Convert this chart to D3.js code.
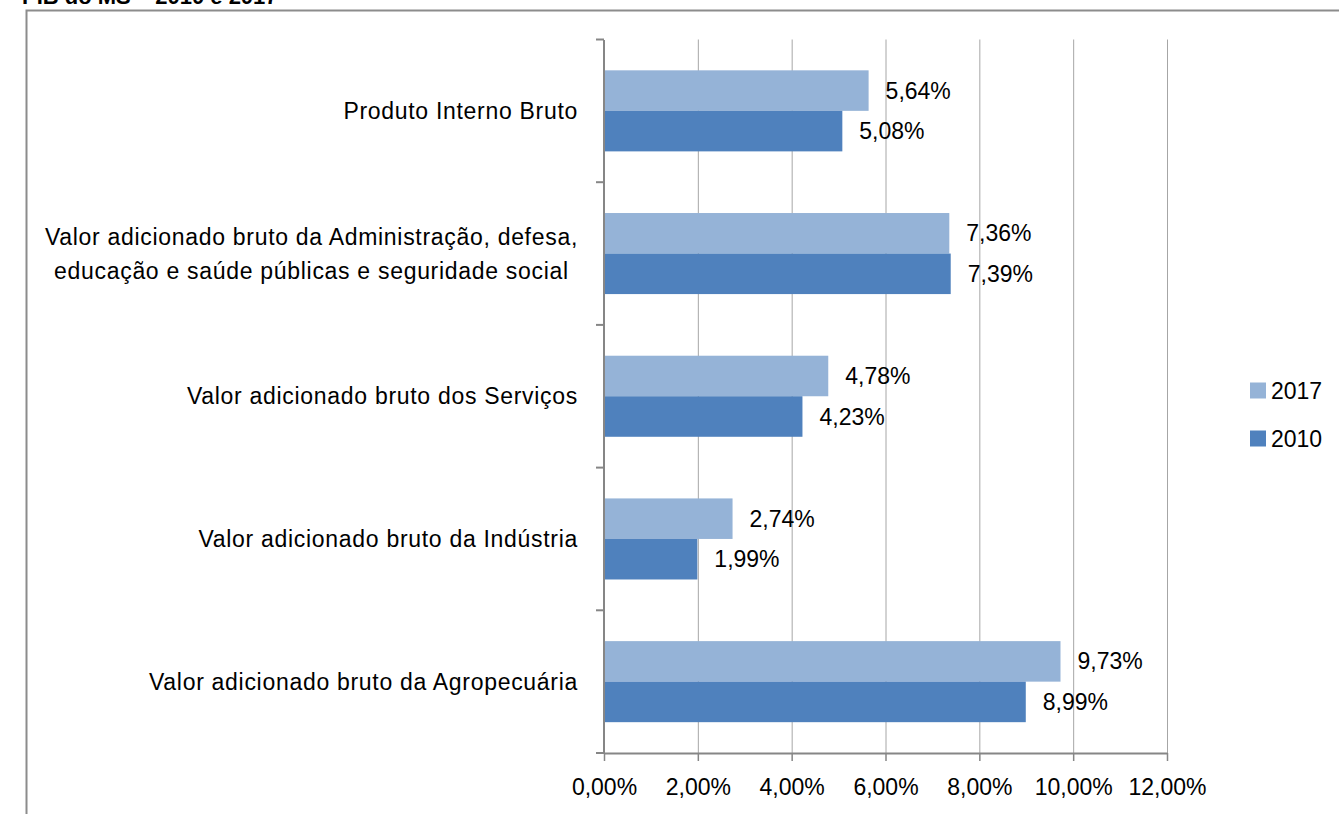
<!DOCTYPE html>
<html>
<head>
<meta charset="utf-8">
<script src="https://cdn.jsdelivr.net/npm/d3@7"></script>
<style>
    body { margin: 0; background: #fff; }
    text { font-family: "Liberation Sans", Arial, sans-serif; fill: #000; }
</style>
</head>
<body>
<div id="chart"></div>
<script>
var width = 1339,
    height = 814;
var margin = { top: 39.5, right: 172, bottom: 61, left: 604 };

var categories = [
    ["Produto Interno Bruto"],
    ["Valor adicionado bruto da Administração, defesa,", "educação e saúde públicas e seguridade social"],
    ["Valor adicionado bruto dos Serviços"],
    ["Valor adicionado bruto da Indústria"],
    ["Valor adicionado bruto da Agropecuária"]
];
var series = ["2017", "2010"];
var values2017 = [5.64, 7.36, 4.78, 2.74, 9.73];
var values2010 = [5.08, 7.39, 4.23, 1.99, 8.99];
var xTicks = [0, 2, 4, 6, 8, 10, 12];

var colors = ['#95b3d7', '#4f81bd'];
var formatPct = function (v) { return v.toFixed(2).replace(".", ",") + "%"; };

var rows = categories.map(function (c, i) {
    return { key: "c" + i, lines: c, "2017": values2017[i], "2010": values2010[i] };
});

var svg = d3.select("#chart")
    .append("svg")
    .attr("width", width)
    .attr("height", height);

// title, cut off at the top of the picture
svg.append("text")
    .attr("x", 22)
    .attr("y", 4)
    .style("font-size", "22px")
    .style("font-weight", "bold")
    .text("PIB do MS – 2010 e 2017");

// outer frame
svg.append("path")
    .attr("d", "M26.5," + height + "V10.5H" + width)
    .attr("fill", "none")
    .attr("stroke", "#8c8c8c")
    .attr("stroke-width", 2);

var x = d3.scaleLinear()
    .domain([0, 12])
    .range([margin.left, width - margin.right]);

var y0 = d3.scaleBand()
    .domain(rows.map(function (d) { return d.key; }))
    .range([margin.top, height - margin.bottom])
    .paddingInner(0.432)
    .paddingOuter(0.216);

var y1 = d3.scaleBand()
    .domain(series)
    .range([0, y0.bandwidth()]);

var color = d3.scaleOrdinal().domain(series).range(colors);

// vertical gridlines
svg.append("g")
    .selectAll("line")
    .data(xTicks.slice(1))
    .enter().append("line")
    .attr("x1", function (d) { return x(d) + 0.5; })
    .attr("x2", function (d) { return x(d) + 0.5; })
    .attr("y1", margin.top)
    .attr("y2", height - margin.bottom)
    .attr("stroke", "#a6a6a6")
    .attr("stroke-width", 1);

// bars
var group = svg.append("g")
    .selectAll("g")
    .data(rows)
    .enter().append("g")
    .attr("transform", function (d) { return "translate(0," + y0(d.key) + ")"; });

group.selectAll("rect")
    .data(function (d) { return series.map(function (s) { return { s: s, v: d[s] }; }); })
    .enter().append("rect")
    .attr("x", x(0))
    .attr("y", function (d) { return y1(d.s); })
    .attr("width", function (d) { return x(d.v) - x(0); })
    .attr("height", y1.bandwidth())
    .attr("fill", function (d) { return color(d.s); });

group.selectAll("text.val")
    .data(function (d) { return series.map(function (s) { return { s: s, v: d[s] }; }); })
    .enter().append("text")
    .attr("class", "val")
    .attr("x", function (d) { return x(d.v) + 17; })
    .attr("y", function (d) { return y1(d.s) + y1.bandwidth() / 2; })
    .attr("dy", "0.35em")
    .style("font-size", "23px")
    .text(function (d) { return formatPct(d.v); });

// y axis
var yAxis = d3.axisLeft(y0)
    .tickValues([])
    .tickSizeOuter(0);

var yg = svg.append("g")
    .attr("transform", "translate(" + (x(0) - 0.5) + ",0)")
    .call(yAxis);
yg.select(".domain").attr("stroke", "#868686").attr("stroke-width", 2);

// category boundary ticks
var bounds = d3.range(rows.length + 1).map(function (i) { return margin.top + i * y0.step(); });
svg.append("g")
    .selectAll("line")
    .data(bounds)
    .enter().append("line")
    .attr("x1", x(0) - 8)
    .attr("x2", x(0))
    .attr("y1", function (d) { return d; })
    .attr("y2", function (d) { return d; })
    .attr("stroke", "#868686")
    .attr("stroke-width", 2);

// category labels, multi-line ones centred on their widest line
var labelRight = x(0) - 26;
var lab = svg.append("g")
    .selectAll("text")
    .data(rows)
    .enter().append("text")
    .attr("text-anchor", "middle")
    .attr("y", function (d) { return y0(d.key) + y0.bandwidth() / 2; })
    .style("font-size", "23px")
    .style("letter-spacing", "0.7px");

lab.selectAll("tspan")
    .data(function (d) { return d.lines.map(function (l, i) { return { l: l, i: i, n: d.lines.length }; }); })
    .enter().append("tspan")
    .attr("x", 0)
    .attr("dy", function (d) { return d.i === 0 ? (0.35 - (d.n - 1) * 0.74) + "em" : "1.48em"; })
    .text(function (d) { return d.l; });

lab.each(function () {
    var w = this.getBBox().width;
    d3.select(this).selectAll("tspan").attr("x", labelRight - w / 2);
});

// x axis
var xAxis = d3.axisBottom(x)
    .tickValues(xTicks)
    .tickSize(8)
    .tickSizeOuter(0)
    .tickPadding(18)
    .tickFormat(formatPct);

var xg = svg.append("g")
    .attr("transform", "translate(0," + (height - margin.bottom) + ")")
    .call(xAxis);
xg.select(".domain").attr("stroke", "#868686").attr("stroke-width", 2);
xg.selectAll(".tick line").attr("stroke", "#868686").attr("stroke-width", 1.5);
xg.selectAll(".tick text")
    .style("font-size", "23px")
    .style("font-family", "'Liberation Sans', Arial, sans-serif")
    .attr("fill", "#000");

// legend
var legend = svg.append("g")
    .selectAll("g")
    .data(series)
    .enter().append("g")
    .attr("transform", function (d, i) { return "translate(1250," + (382.5 + i * 48) + ")"; });

legend.append("rect")
    .attr("width", 16)
    .attr("height", 16)
    .attr("fill", function (d) { return color(d); });

legend.append("text")
    .attr("x", 21)
    .attr("y", 8)
    .attr("dy", "0.35em")
    .style("font-size", "23px")
    .text(function (d) { return d; });
</script>
</body>
</html>
